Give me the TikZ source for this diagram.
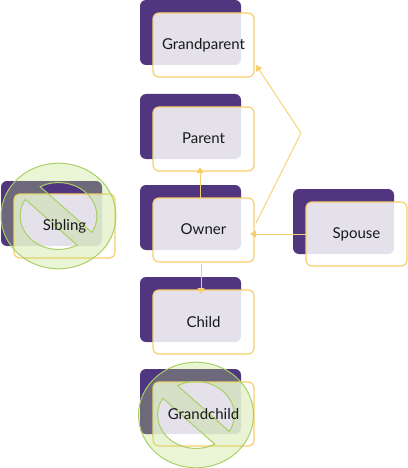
\documentclass[tikz,border=0pt]{standalone}
\usepackage{fontspec}
\setmainfont{Lato}
\usetikzlibrary{arrows.meta}
\definecolor{backpurple}{HTML}{50367F}
\definecolor{frameyellow}{HTML}{F8CE6C}
\definecolor{signgreen}{HTML}{A8D065}
\definecolor{signfill}{HTML}{B6DE73}
\definecolor{paleline}{HTML}{CFC8DE}
\newcommand{\boxtext}[1]{\raisebox{1pt}{#1}}
\tikzset{
  x=1pt,y=-1pt,
  backbox/.style={anchor=north west,draw=none,fill=backpurple,rounded corners=6pt,minimum width=101pt,minimum height=65pt,inner sep=0pt,outer sep=0pt},
  labeltext/.style={font=\fontsize{15pt}{18pt}\selectfont,text=black!90,inner sep=0pt},
  frontbox/.style={anchor=north west,draw=frameyellow,line width=1.2pt,fill=white,fill opacity=.85,text opacity=1,rounded corners=6pt,minimum width=101pt,minimum height=64pt,inner sep=0pt,outer sep=0pt,labeltext},
  link/.style={draw=frameyellow,line width=.9pt,-{Triangle[length=6pt,width=7pt,fill=frameyellow]}},
  sign/.style={draw=signgreen,line width=1pt,fill=signfill,fill opacity=.3,even odd rule}
}
\newcommand{\forbid}[2]{%
  \path[sign] (#1,#2) ellipse [x radius=57.5,y radius=52.8]
    plot[domain=-29.5:118.6,samples=50] ({#1+38.3*cos(\x)},{#2-33.4*sin(\x)}) -- cycle
    plot[domain=150:299.2,samples=50] ({#1+38.3*cos(\x)},{#2-33.4*sin(\x)}) -- cycle;
}
\begin{document}
\begin{tikzpicture}
\useasboundingbox (0,0) rectangle (407,468);
\node[backbox] (gpb) at (140,0) {};
\node[backbox] (pab) at (140,94) {};
\node[backbox] (owb) at (140,185) {};
\node[backbox] (chb) at (140,277) {};
\node[backbox] (spb) at (293,189) {};
\node[backbox] (sib) at (1,181) {};
\node[backbox] (gcb) at (140,369) {};
\node[frontbox] (gp) at (153,13) {\boxtext{Grandparent}};
\node[frontbox] (pa) at (153,107) {\boxtext{Parent}};
\node[frontbox] (ow) at (153,198) {\boxtext{Owner}};
\node[frontbox] (ch) at (153,290) {\boxtext{Child}};
\node[frontbox] (sp) at (306,202) {\boxtext{Spouse}};
\node[frontbox] (si) at (14,194) {};
\node[frontbox] (gc) at (153,382) {};
\coordinate (bend) at (301,133);
\draw[link] ([xshift=-3.5pt]ow.north) -- ([xshift=-3.5pt,yshift=4pt]pa.south);
\draw[paleline,line width=.9pt] ([xshift=-2.5pt,yshift=-2pt]ow.south) -- ([xshift=-2.5pt,yshift=-1pt]ch.north);
\draw[link] ([xshift=-2.5pt,yshift=2pt]ch.north) -- ([xshift=-2.5pt,yshift=-4pt]ch.north);
\draw[link] (sp.west) -- ([xshift=-4pt,yshift=-4pt]ow.east);
\draw[link] ([xshift=2pt,yshift=7pt]ow.east) -- (bend) -- ([xshift=2pt,yshift=12pt]gp.south east);
\forbid{58.5}{216}
\forbid{196}{415}
\node[labeltext] (sil) at (si.center) {\boxtext{Sibling}};
\node[labeltext] (gcl) at (gc.center) {\boxtext{Grandchild}};
\end{tikzpicture}
\end{document}
